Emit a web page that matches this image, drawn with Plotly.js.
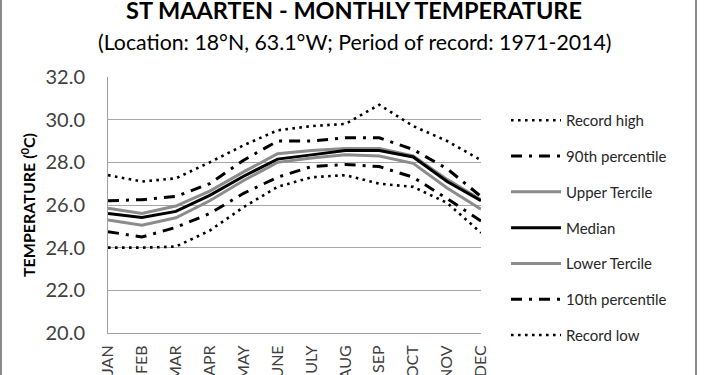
<!DOCTYPE html>
<html>
<head>
<meta charset="utf-8">
<script src="https://cdn.plot.ly/plotly-3.0.1.min.js"></script>
<style>
  html, body { margin: 0; padding: 0; background: #fff; }
  #wrap { position: relative; width: 710px; height: 375px; overflow: hidden; }
  #chart { width: 710px; height: 375px; }
  #frame { position: absolute; left: 0; top: 0; width: 697px; height: 375px;
           border-left: 2px solid #8a8a8a; border-right: 2px solid #8a8a8a;
           box-sizing: border-box; pointer-events: none; }
</style>
</head>
<body>
<div id="wrap"><div id="chart"></div><div id="frame"></div></div>
<script>
const months = ["JAN","FEB","MAR","APR","MAY","JUNE","JULY","AUG","SEP","OCT","NOV","DEC"];
const recordHigh    = [27.4, 27.1, 27.25, 28.0, 28.8, 29.5, 29.7, 29.8, 30.7, 29.7, 29.0, 28.1];
const pct90         = [26.2, 26.25, 26.4, 27.0, 28.1, 29.0, 29.0, 29.15, 29.15, 28.6, 27.7, 26.4];
const upperTercile  = [25.85, 25.6, 25.95, 26.65, 27.55, 28.4, 28.55, 28.65, 28.65, 28.3, 27.2, 26.25];
const median        = [25.6, 25.42, 25.7, 26.45, 27.35, 28.15, 28.35, 28.55, 28.55, 28.25, 27.1, 26.2];
const lowerTercile  = [25.3, 25.05, 25.4, 26.2, 27.15, 28.0, 28.2, 28.35, 28.3, 27.95, 26.8, 25.8];
const pct10         = [24.75, 24.5, 24.95, 25.6, 26.55, 27.3, 27.8, 27.9, 27.8, 27.3, 26.3, 25.25];
const recordLow     = [24.0, 24.0, 24.05, 24.8, 25.9, 26.85, 27.3, 27.4, 27.0, 26.85, 26.1, 24.7];
const yTicks = [20, 22, 24, 26, 28, 30, 32];

const FONT = "Lato, 'Open Sans', 'DejaVu Sans', sans-serif";
const dotted = {color: "#000", width: 2.6, dash: "2.6px,4.4px"};
const dashDot = {color: "#000", width: 3, dash: "11px,7px,3px,7px"};
const grayLine = {color: "#8c8c8c", width: 3};
const blackLine = {color: "#000", width: 3};

function tr(name, y, line, g) {
  return {type: "scatter", mode: "lines", x: months, y: y, name: name, line: line,
          legendgroup: g, hoverinfo: "skip"};
}
const data = [
  tr("Record high", recordHigh, dotted, "a"),
  tr("90th percentile", pct90, dashDot, "b"),
  tr("Upper Tercile", upperTercile, grayLine, "c"),
  tr("Median", median, blackLine, "d"),
  tr("Lower Tercile", lowerTercile, grayLine, "e"),
  tr("10th percentile", pct10, dashDot, "f"),
  tr("Record low", recordLow, dotted, "g")
];

const layout = {
  width: 710, height: 375,
  margin: {l: 108, r: 229, t: 77, b: 42},
  paper_bgcolor: "#fff", plot_bgcolor: "#fff",
  font: {family: FONT, color: "#404040"},
  title: {
    text: "<b>ST MAARTEN - MONTHLY TEMPERATURE</b>",
    font: {family: FONT, size: 23.5, color: "#000"},
    x: 354 / 710, xref: "container", xanchor: "center",
    y: 1 - 11 / 375, yref: "container", yanchor: "middle"
  },
  annotations: [{
    text: "(Location: 18°N, 63.1°W; Period of record: 1971-2014)",
    xref: "paper", yref: "paper", x: (355 - 108) / 373, xanchor: "center",
    y: (333 - 42) / 256, yanchor: "middle", showarrow: false,
    font: {family: FONT, size: 21.3, color: "#000"}
  }],
  xaxis: {
    type: "category", tickangle: -90, ticks: "", ticklabelstandoff: 5,
    tickfont: {family: FONT, size: 16, color: "#404040"},
    showgrid: false, showline: true, linecolor: "#a0a0a0", linewidth: 1,
    zeroline: false, fixedrange: true
  },
  yaxis: {
    range: [20, 32], tickvals: yTicks, tickformat: ".1f",
    tickfont: {family: FONT, size: 20, color: "#404040"},
    showgrid: true, gridcolor: "#a6a6a6", gridwidth: 1,
    showline: true, linecolor: "#a0a0a0", linewidth: 1, mirror: false,
    ticks: "", ticklabelstandoff: 18, zeroline: false, fixedrange: true,
    title: {text: "<b>TEMPERATURE (<sup>0</sup>C)</b>", standoff: 5,
            font: {family: FONT, size: 16, color: "#000"}}
  },
  showlegend: true,
  legend: {
    x: (506 - 108) / 373, xanchor: "left",
    y: (333 - 104) / 256, yanchor: "top",
    traceorder: "grouped", tracegroupgap: 13.3, itemwidth: 50,
    font: {family: FONT, size: 15, color: "#262626"},
    bgcolor: "rgba(0,0,0,0)", borderwidth: 0
  }
};

Plotly.newPlot("chart", data, layout, {staticPlot: true, displayModeBar: false});
</script>
</body>
</html>
